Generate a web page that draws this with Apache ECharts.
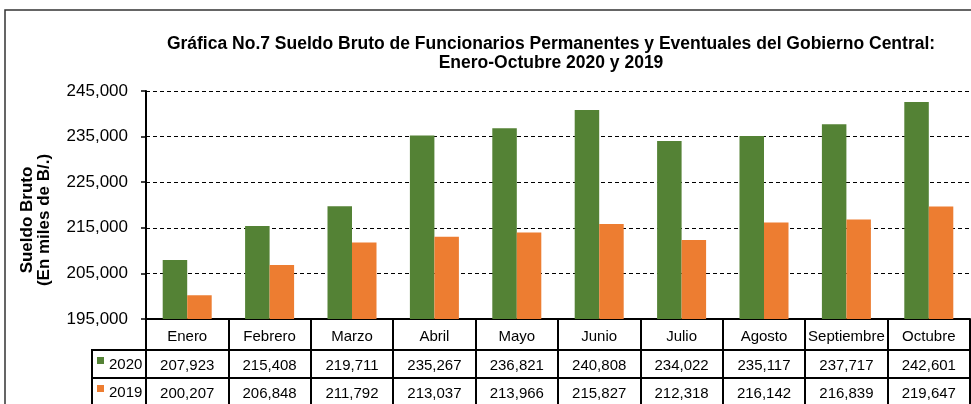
<!DOCTYPE html>
<html>
<head>
<meta charset="utf-8">
<script src="https://cdn.jsdelivr.net/npm/echarts@6/dist/echarts.min.js"></script>
<style>
  html, body { margin: 0; padding: 0; background: #fff; }
  #chart { width: 971px; height: 404px; }
</style>
</head>
<body>
<div id="chart"></div>
<script>
var months = ['Enero', 'Febrero', 'Marzo', 'Abril', 'Mayo', 'Junio', 'Julio', 'Agosto', 'Septiembre', 'Octubre'];
var values2020 = [207923, 215408, 219711, 235267, 236821, 240808, 234022, 235117, 237717, 242601];
var values2019 = [200207, 206848, 211792, 213037, 213966, 215827, 212318, 216142, 216839, 219647];
var yTicks = { min: 195000, max: 245000, interval: 10000 };

var green = '#548235';
var orange = '#ED7D31';
var font = 'Liberation Sans, Arial, sans-serif';
// small square sitting a bit above the text centre, like the table legend keys
var keyIcon = 'path://M0,0L7,0L7,7L0,7Z M0,16L0.05,16';

function fmt(v) {
  return Number(v).toLocaleString('en-US');
}

// one bottom axis per table row, ticks used as cell borders
function rowAxis(offset, rowH, values) {
  return {
    type: 'category',
    data: months,
    position: 'bottom',
    offset: offset,
    axisLine: { show: true, lineStyle: { color: '#000', width: 2 } },
    axisTick: { show: true, interval: 0, length: rowH, lineStyle: { color: '#000', width: 2 } },
    axisLabel: {
      interval: 0, margin: 8, color: '#000', fontSize: 15, fontFamily: font,
      formatter: function (v, i) { return fmt(values[i]); }
    },
    splitLine: { show: false }
  };
}

function keyLegend(name, top) {
  return {
    data: [name], left: 97, top: top, padding: 0, icon: keyIcon, itemWidth: 7, itemHeight: 16,
    textStyle: { fontFamily: font, fontSize: 15, color: '#000' }
  };
}

var chart = echarts.init(document.getElementById('chart'));
var option = {
  animation: false,
  backgroundColor: '#fff',
  title: {
    text: 'Gráfica No.7 Sueldo Bruto de Funcionarios Permanentes y Eventuales del Gobierno Central:\nEnero-Octubre 2020 y 2019',
    left: 546, top: 30, textAlign: 'center',
    textStyle: { fontFamily: font, fontSize: 17.5, fontWeight: 'bold', color: '#000', lineHeight: 19 }
  },
  legend: [keyLegend('2020', 357), keyLegend('2019', 385)],
  grid: { left: 146, right: 1, top: 91, bottom: 85, containLabel: false },
  xAxis: [{
    type: 'category',
    data: months,
    position: 'bottom',
    axisLine: { show: true, lineStyle: { color: '#000', width: 2 } },
    axisTick: { show: true, interval: 0, length: 31, lineStyle: { color: '#000', width: 2 } },
    axisLabel: { interval: 0, margin: 10, color: '#000', fontSize: 15, fontFamily: font }
  },
    rowAxis(31, 28, values2020),
    rowAxis(59, 28, values2019)
  ],
  yAxis: {
    type: 'value',
    min: yTicks.min, max: yTicks.max, interval: yTicks.interval,
    name: 'Sueldo Bruto\n(En miles de B/.)',
    nameLocation: 'middle', nameGap: 93, nameRotate: 90,
    nameTextStyle: { fontFamily: font, fontSize: 17, fontWeight: 'bold', color: '#000', lineHeight: 17, padding: [0, 30, 0, 0] },
    axisLine: { show: true, lineStyle: { color: '#000', width: 2 } },
    axisTick: { show: true, length: 5, lineStyle: { color: '#000', width: 1.5 } },
    axisLabel: { color: '#000', fontSize: 17, fontFamily: font, margin: 18, formatter: fmt },
    splitLine: { show: true, lineStyle: { color: '#000', type: [4, 3], width: 1 } }
  },
  series: [{
    name: '2020', type: 'bar', data: values2020, xAxisIndex: 0,
    barWidth: 24.5, barGap: '0%', itemStyle: { color: green }
  }, {
    name: '2019', type: 'bar', data: values2019, xAxisIndex: 0,
    barWidth: 24.5, barGap: '0%', itemStyle: { color: orange }
  }],
  graphic: [
    { type: 'rect', shape: { x: 5, y: 10, width: 990, height: 420 }, style: { fill: null, stroke: '#333', lineWidth: 1.5 } },
    { type: 'line', shape: { x1: 92, y1: 350, x2: 146, y2: 350 }, style: { stroke: '#000', lineWidth: 2 } },
    { type: 'line', shape: { x1: 92, y1: 378, x2: 146, y2: 378 }, style: { stroke: '#000', lineWidth: 2 } },
    { type: 'line', shape: { x1: 92, y1: 349, x2: 92, y2: 404 }, style: { stroke: '#000', lineWidth: 2 } }
  ]
};
chart.setOption(option);
</script>
</body>
</html>
